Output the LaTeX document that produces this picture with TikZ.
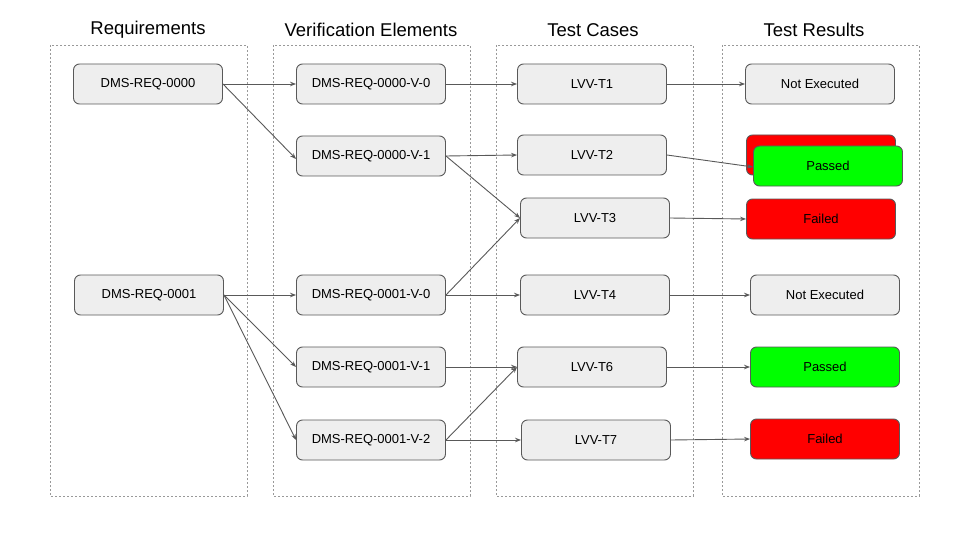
\documentclass[tikz,border=0pt]{standalone}
\usepackage{fontspec}
\setmainfont{Liberation Sans}
\usetikzlibrary{arrows.meta}
\definecolor{boxfill}{HTML}{EEEEEE}
\definecolor{boxline}{HTML}{595959}
\definecolor{okgreen}{HTML}{00FF00}
\definecolor{badred}{HTML}{FF0000}
\definecolor{dotline}{HTML}{999999}
\tikzset{
  item/.style={draw=boxline, line width=0.9pt, fill=boxfill, rounded corners=6pt,
    minimum width=149pt, minimum height=40pt, inner sep=0pt,
    font=\fontsize{13}{15}\selectfont},
  passbox/.style={item, fill=okgreen},
  failbox/.style={item, fill=badred},
  colframe/.style={draw=dotline, line width=0.7pt, dash pattern=on 2pt off 2pt},
  coltitle/.style={font=\fontsize{18.5}{21}\selectfont},
  link/.style={draw=boxline, line width=0.9pt, -{Stealth[length=6pt,width=4.5pt]}}
}
\begin{document}
\begin{tikzpicture}[x=1pt,y=-1pt]
\useasboundingbox[fill=white] (0,0) rectangle (960,540);
% column frames
\draw[colframe] (50,45) rectangle (247,496);
\draw[colframe] (273,45) rectangle (470,496);
\draw[colframe] (496,45) rectangle (693,496);
\draw[colframe] (722,45) rectangle (919,496);
\node[coltitle] (t1) at (148,30) {Requirements};
\node[coltitle] (t2) at (371,30) {Verification Elements};
\node[coltitle] (t3) at (593,30) {Test Cases};
\node[coltitle] (t4) at (814,30) {Test Results};
% requirements
\node[item] (r0) at (148,84) {DMS-REQ-0000};
\node[item] (r1) at (149,295) {DMS-REQ-0001};
% verification elements
\node[item] (v00) at (371,84) {DMS-REQ-0000-V-0};
\node[item] (v01) at (371,156) {DMS-REQ-0000-V-1};
\node[item] (v10) at (371,295) {DMS-REQ-0001-V-0};
\node[item] (v11) at (371,367) {DMS-REQ-0001-V-1};
\node[item] (v12) at (371,440) {DMS-REQ-0001-V-2};
% test cases
\node[item] (c1) at (592,84) {LVV-T1};
\node[item] (c2) at (592,155) {LVV-T2};
\node[item] (c3) at (595,218) {LVV-T3};
\node[item] (c4) at (595,295) {LVV-T4};
\node[item] (c6) at (592,367) {LVV-T6};
\node[item] (c7) at (596,440) {LVV-T7};
% results
\node[item] (e1) at (820,84) {Not Executed};
\node[failbox] (e2b) at (821,155) {};
\node[passbox] (e2) at (828,166) {Passed};
\node[failbox] (e3) at (821,219) {Failed};
\node[item] (e4) at (825,295) {Not Executed};
\node[passbox] (e6) at (825,367) {Passed};
\node[failbox] (e7) at (825,439) {Failed};
% connectors
\draw[link] (r0.east) -- (v00.west);
\draw[link] (r0.east) -- ([yshift=-3pt]v01.west);
\draw[link] (v00.east) -- (c1.west);
\draw[link] (v01.east) -- (c2.west);
\draw[link] (v01.east) -- (c3.west);
\draw[link] (c1.east) -- (e1.west);
\draw[link] (c2.east) -- ([yshift=-1pt]e2.west);
\draw[link] (c3.east) -- (e3.west);
\draw[link] (r1.east) -- (v10.west);
\draw[link] (r1.east) -- (v11.west);
\draw[link] (r1.east) -- (v12.west);
\draw[link] (v10.east) -- (c3.west);
\draw[link] (v10.east) -- (c4.west);
\draw[link] (c4.east) -- (e4.west);
\draw[link] (v11.east) -- (c6.west);
\draw[link] (v12.east) -- (c6.west);
\draw[link] (v12.east) -- (c7.west);
\draw[link] (c6.east) -- (e6.west);
\draw[link] (c7.east) -- (e7.west);
\end{tikzpicture}
\end{document}
